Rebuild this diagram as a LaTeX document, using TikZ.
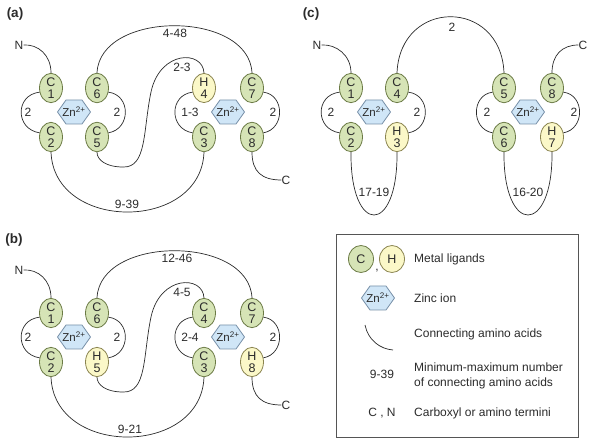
\documentclass[tikz,border=0pt]{standalone}
\usepackage{fontspec}
\setmainfont{Liberation Sans}
\usetikzlibrary{shapes.geometric}
\definecolor{gfill}{HTML}{D6E4B6}
\definecolor{gline}{HTML}{6B7A45}
\definecolor{yfill}{HTML}{FBF8C8}
\definecolor{yline}{HTML}{8A8450}
\definecolor{hfill}{HTML}{D0E6F7}
\definecolor{hline}{HTML}{7890A8}
\definecolor{ink}{HTML}{2B2B2B}
\tikzset{
  lig/.style={ellipse, draw=gline, fill=gfill, line width=0.8pt, minimum width=23pt, minimum height=29pt, inner sep=0pt, align=center, font=\fontsize{12.5}{12}\selectfont, text=ink},
  hlig/.style={lig, draw=yline, fill=yfill},
  zn/.style={inner sep=0pt, font=\fontsize{11.5}{11}\selectfont, text=ink},
  hexline/.style={draw=hline, fill=hfill, line width=0.8pt},
  con/.style={draw=ink, line width=0.7pt},
  lab/.style={inner sep=0pt, font=\fontsize{12}{12}\selectfont, text=ink},
  panel/.style={inner sep=0pt, font=\fontsize{13.5}{14}\selectfont\bfseries, text=ink},
  legtext/.style={inner sep=0pt, anchor=west, align=left, font=\fontsize{12}{14.5}\selectfont, text=ink},
}
\newcommand{\zincat}[3]{%
  \path[hexline] (#2,#3) ++(-16.5,0) -- ++(8.5,-12) -- ++(16,0) -- ++(8.5,12) -- ++(-8.5,12) -- ++(-16,0) -- cycle;
  \node[zn] (#1) at (#2,#3) {Zn\textsuperscript{2+}};}
\begin{document}
\begin{tikzpicture}[x=1pt,y=-1pt]
\useasboundingbox (0,0) rectangle (600,446);
% ================= panel (a)
\node[panel] (pa) at (15,14) {(a)};
\node[lig] (a1) at (51,88) {C\\1};
\node[lig] (a2) at (51,137) {C\\2};
\node[lig] (a6) at (97,88) {C\\6};
\node[lig] (a5) at (97,137) {C\\5};
\zincat{za1}{74}{112}
\node[hlig] (a4) at (204,88) {H\\4};
\node[lig] (a3) at (204,137) {C\\3};
\node[lig] (a7) at (252,88) {C\\7};
\node[lig] (a8) at (252,137) {C\\8};
\zincat{za2}{228}{112}
\node[lab] (aN) at (19,45) {N};
\node[lab] (aC) at (286,180) {C};
\draw[con] (aN.east) .. controls (38,44) and (51,55) .. (a1.north);
\draw[con] (a1.200) .. controls (15,95) and (15,129) .. (a2.160);
\draw[con] (a6.-20) .. controls (131,95) and (131,129) .. (a5.20);
\draw[con] (a4.200) .. controls (169,95) and (169,129) .. (a3.160);
\draw[con] (a7.-20) .. controls (285,95) and (285,129) .. (a8.20);
\draw[con] (a6.north) .. controls (100,10) and (249,10) .. (a7.north);
\draw[con] (a4.north) .. controls (203,50) and (160,50) .. (151,92) .. controls (143,130) and (147,168) .. (123,167) .. controls (106,167) and (97,160) .. (a5.south);
\draw[con] (a2.south) .. controls (54,232) and (201,232) .. (a3.south);
\draw[con] (a8.south) .. controls (252,172) and (262,180) .. (aC.west);
\node[lab] (la1) at (175,33) {4-48};
\node[lab] (la2) at (182,67) {2-3};
\node[lab] (la3) at (127,204) {9-39};
\node[lab] (la4) at (28,112) {2};
\node[lab] (la5) at (117,112) {2};
\node[lab] (la6) at (190,112) {1-3};
\node[lab] (la7) at (273,112) {2};
% ================= panel (b)
\node[panel] (pb) at (14,240) {(b)};
\node[lig] (b1) at (51,313) {C\\1};
\node[lig] (b2) at (51,362) {C\\2};
\node[lig] (b6) at (97,313) {C\\6};
\node[hlig] (b5) at (97,362) {H\\5};
\zincat{zb1}{74}{337}
\node[lig] (b4) at (204,313) {C\\4};
\node[lig] (b3) at (204,362) {C\\3};
\node[lig] (b7) at (252,313) {C\\7};
\node[hlig] (b8) at (252,362) {H\\8};
\zincat{zb2}{228}{337}
\node[lab] (bN) at (19,270) {N};
\node[lab] (bC) at (286,405) {C};
\draw[con] (bN.east) .. controls (38,269) and (51,280) .. (b1.north);
\draw[con] (b1.200) .. controls (15,320) and (15,354) .. (b2.160);
\draw[con] (b6.-20) .. controls (131,320) and (131,354) .. (b5.20);
\draw[con] (b4.200) .. controls (169,320) and (169,354) .. (b3.160);
\draw[con] (b7.-20) .. controls (285,320) and (285,354) .. (b8.20);
\draw[con] (b6.north) .. controls (100,235) and (249,235) .. (b7.north);
\draw[con] (b4.north) .. controls (203,275) and (160,275) .. (151,317) .. controls (143,355) and (147,393) .. (123,392) .. controls (106,392) and (97,385) .. (b5.south);
\draw[con] (b2.south) .. controls (54,457) and (201,457) .. (b3.south);
\draw[con] (b8.south) .. controls (252,397) and (262,405) .. (bC.west);
\node[lab] (lb1) at (177,258) {12-46};
\node[lab] (lb2) at (182,292) {4-5};
\node[lab] (lb3) at (130,429) {9-21};
\node[lab] (lb4) at (28,337) {2};
\node[lab] (lb5) at (117,337) {2};
\node[lab] (lb6) at (190,337) {2-4};
\node[lab] (lb7) at (273,337) {2};
% ================= panel (c)
\node[panel] (pc) at (311,14) {(c)};
\node[lig] (c1) at (351,88) {C\\1};
\node[lig] (c2) at (351,137) {C\\2};
\node[lig] (c4) at (397,88) {C\\4};
\node[hlig] (c3) at (397,137) {H\\3};
\zincat{zc1}{374}{112}
\node[lig] (c5) at (504,88) {C\\5};
\node[lig] (c6) at (504,137) {C\\6};
\node[lig] (c8) at (552,88) {C\\8};
\node[hlig] (c7) at (552,137) {H\\7};
\zincat{zc2}{528}{112}
\node[lab] (cN) at (317,45) {N};
\node[lab] (cC) at (583,45) {C};
\draw[con] (cN.east) .. controls (336,44) and (351,55) .. (c1.north);
\draw[con] (c8.north) .. controls (552,55) and (562,45) .. (cC.west);
\draw[con] (c1.200) .. controls (315,95) and (315,129) .. (c2.160);
\draw[con] (c4.-20) .. controls (431,95) and (431,129) .. (c3.20);
\draw[con] (c5.200) .. controls (471,95) and (471,129) .. (c6.160);
\draw[con] (c8.-20) .. controls (585,95) and (585,129) .. (c7.20);
\draw[con] (c4.north) .. controls (400,-2) and (501,-2) .. (c5.north);
\draw[con] (c2.south) .. controls (350,236) and (398,236) .. (c3.south);
\draw[con] (c6.south) .. controls (503,236) and (553,236) .. (c7.south);
\node[lab] (lc1) at (452,27) {2};
\node[lab] (lc2) at (374,192) {17-19};
\node[lab] (lc3) at (528,192) {16-20};
\node[lab] (lc4) at (331,112) {2};
\node[lab] (lc5) at (417,112) {2};
\node[lab] (lc6) at (487,112) {2};
\node[lab] (lc7) at (574,112) {2};
% ================= legend
\node[draw=ink!80, line width=0.7pt, minimum width=242pt, minimum height=203pt, inner sep=0pt, anchor=north west] (box) at (336,234) {};
\node[lig, minimum width=25pt, minimum height=27pt] (kc) at (361,259) {C};
\node[hlig, minimum width=25pt, minimum height=27pt] (kh) at (392,259) {H};
\node[lab] (kcomma) at (377,271) {,};
\node[legtext] (t1) at (414,259) {Metal ligands};
\zincat{kz}{378}{298}
\node[legtext] (t2) at (414,298) {Zinc ion};
\coordinate (k1) at (365,325);
\coordinate (k2) at (393,350);
\draw[con] (k1) .. controls (368,340) and (380,349) .. (k2);
\node[legtext] (t3) at (414,334) {Connecting amino acids};
\node[lab] (k939) at (382,374) {9-39};
\node[legtext] (t4) at (414,376) {Minimum-maximum number\\of connecting amino acids};
\node[lab] (kcn) at (382,413) {C , N};
\node[legtext] (t5) at (414,413) {Carboxyl or amino termini};
\end{tikzpicture}
\end{document}
